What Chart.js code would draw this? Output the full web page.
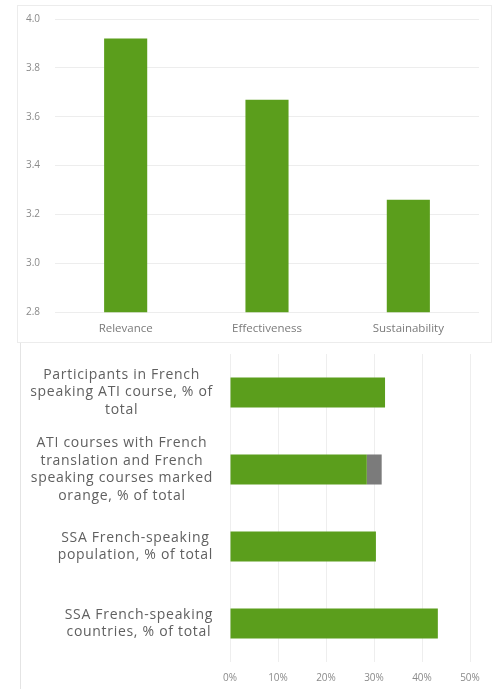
<!DOCTYPE html>
<html>
<head>
<meta charset="utf-8">
<script src="https://cdn.jsdelivr.net/npm/chart.js@4.4.0/dist/chart.umd.min.js"></script>
<style>
    body { margin: 0; background: #fff; width: 496px; height: 689px; overflow: hidden; position: relative; }
    #topPanel { position: absolute; left: 17px; top: 5px; width: 475px; height: 338px; box-sizing: border-box; border: 1px solid #ececec; }
    #bottomPanel { position: absolute; left: 20px; top: 343px; width: 476px; height: 346px; box-sizing: border-box; border-left: 1px solid #e4e4e4; }
</style>
</head>
<body>
<div id="topPanel"><canvas id="scoreChart"></canvas></div>
<div id="bottomPanel"><canvas id="frenchChart"></canvas></div>
<script>
// Top chart data
const scoreCategories = ['Relevance', 'Effectiveness', 'Sustainability'];
const scoreValues = [3.92, 3.67, 3.26];
const scoreMin = 2.8;
const scoreMax = 4.0;
const scoreStep = 0.2;

// Bottom chart data
const frenchCategories = [
    ['Participants in French', 'speaking ATI course, % of', 'total'],
    ['ATI courses with French', 'translation and French', 'speaking courses marked', 'orange, % of total'],
    ['SSA French-speaking', 'population, % of total'],
    ['SSA French-speaking', 'countries, % of total']
];
const frenchGreen = [32.3, 28.5, 30.4, 43.3];
const frenchGray = [0, 3.1, 0, 0];
const percentMax = 50;
const percentStep = 10;

const GREEN = '#5b9e1c';
const GRAY = '#7b7b7b';

Chart.defaults.font.family = "'Open Sans', sans-serif";
Chart.defaults.animation = false;

new Chart(document.getElementById('scoreChart'), {
    type: 'bar',
    data: {
        labels: scoreCategories,
        datasets: [{
            data: scoreValues,
            backgroundColor: GREEN,
            categoryPercentage: 1,
            barPercentage: 0.305
        }]
    },
    options: {
        responsive: true,
        maintainAspectRatio: false,
        layout: { padding: { top: 13, right: 12, bottom: -4, left: 8 } },
        plugins: { legend: { display: false }, tooltip: { enabled: false } },
        scales: {
            x: {
                grid: { display: false, drawTicks: false },
                border: { display: false },
                ticks: { color: '#7a7a7a', font: { size: 11.5 }, padding: 10 }
            },
            y: {
                min: scoreMin,
                max: scoreMax,
                afterFit: (scale) => { scale.width = 29; },
                grid: { color: '#ededed', drawTicks: false },
                border: { display: false },
                ticks: {
                    stepSize: scoreStep,
                    color: '#8a8a8a',
                    font: { size: 10 },
                    padding: 0,
                    crossAlign: 'far',
                    callback: (v) => Number(v).toFixed(1)
                }
            }
        }
    }
});

// draws the wrapped category labels: each block right-aligned, lines centred in it
const blockLabels = {
    id: 'blockLabels',
    afterDraw(chart) {
        const ctx = chart.ctx;
        const yScale = chart.scales.y;
        const right = chart.chartArea.left - 17;
        const lineHeight = 17.5;
        ctx.save();
        ctx.font = "14px 'Open Sans', sans-serif";
        ctx.letterSpacing = '0.7px';
        ctx.fillStyle = '#606060';
        ctx.textAlign = 'center';
        ctx.textBaseline = 'middle';
        chart.data.labels.forEach((lines, i) => {
            const widest = Math.max(...lines.map(l => ctx.measureText(l).width));
            const cx = right - widest / 2;
            const cy = yScale.getPixelForTick(i);
            const startY = cy - (lines.length - 1) * lineHeight / 2;
            lines.forEach((line, j) => ctx.fillText(line, cx, startY + j * lineHeight));
        });
        ctx.restore();
    }
};

new Chart(document.getElementById('frenchChart'), {
    type: 'bar',
    data: {
        labels: frenchCategories,
        datasets: [
            { data: frenchGreen, backgroundColor: GREEN, categoryPercentage: 1, barPercentage: 0.39 },
            { data: frenchGray, backgroundColor: GRAY, categoryPercentage: 1, barPercentage: 0.39 }
        ]
    },
    options: {
        indexAxis: 'y',
        responsive: true,
        maintainAspectRatio: false,
        layout: { padding: { top: 11, right: 26, bottom: -5, left: 0 } },
        plugins: { legend: { display: false }, tooltip: { enabled: false } },
        scales: {
            x: {
                stacked: true,
                min: 0,
                max: percentMax,
                grid: { color: '#eeeeee', drawTicks: false },
                border: { display: false },
                ticks: {
                    stepSize: percentStep,
                    color: '#8a8a8a',
                    font: { size: 10 },
                    padding: 10,
                    callback: (v) => v + '%'
                }
            },
            y: {
                stacked: true,
                afterFit: (scale) => { scale.width = 209; },
                grid: { display: false },
                border: { display: false },
                ticks: { display: false }
            }
        }
    },
    plugins: [blockLabels]
});
</script>
</body>
</html>
